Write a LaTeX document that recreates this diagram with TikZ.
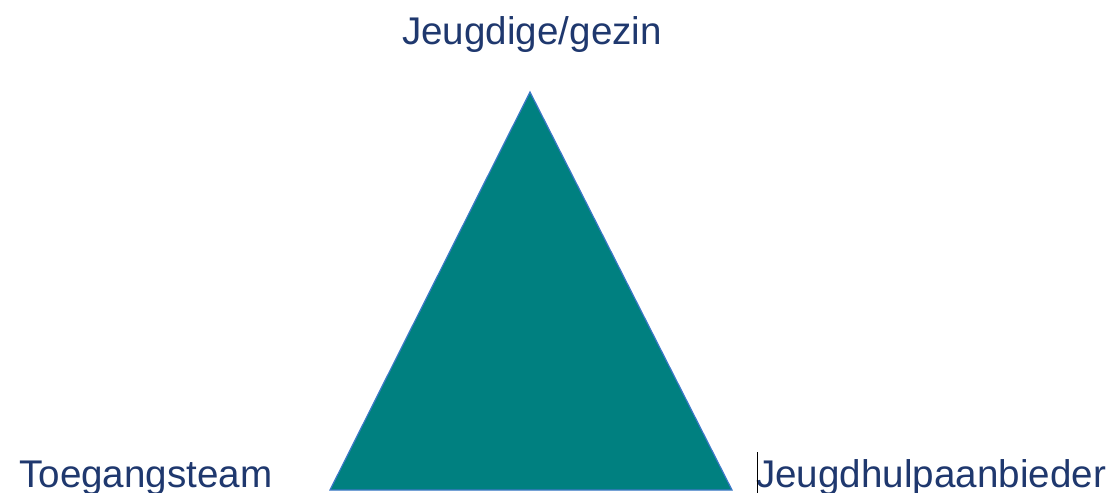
\documentclass[tikz,border=0pt]{standalone}
\usepackage{fontspec}
\setmainfont{Liberation Sans}
\definecolor{navy}{RGB}{31,56,110}
\definecolor{tealfill}{RGB}{0,128,128}
\definecolor{edgeblue}{RGB}{60,120,200}
\begin{document}
\begin{tikzpicture}[x=1pt,y=-1pt,
  lbl/.style={inner sep=0pt,anchor=base west,text=navy,font=\fontsize{38.6}{42}\selectfont}]
\useasboundingbox (0,0) rectangle (1112,493);
\coordinate (apex) at (530,92);
\coordinate (bl) at (330,490);
\coordinate (br) at (732,490);
\filldraw[fill=tealfill,draw=edgeblue,line width=1.2pt,line join=miter] (apex) -- (bl) -- (br) -- cycle;
\node[lbl] (top) at (402,44) {Jeugdige/gezin};
\node[lbl] (left) at (19,487) {Toegangsteam};
\node[lbl] (right) at (756,487) {Jeugdhulpaanbieder};
\coordinate (c1) at (757,452);
\coordinate (c2) at (757,493);
\draw[black,line width=1pt] (c1) -- (c2);
\end{tikzpicture}
\end{document}
